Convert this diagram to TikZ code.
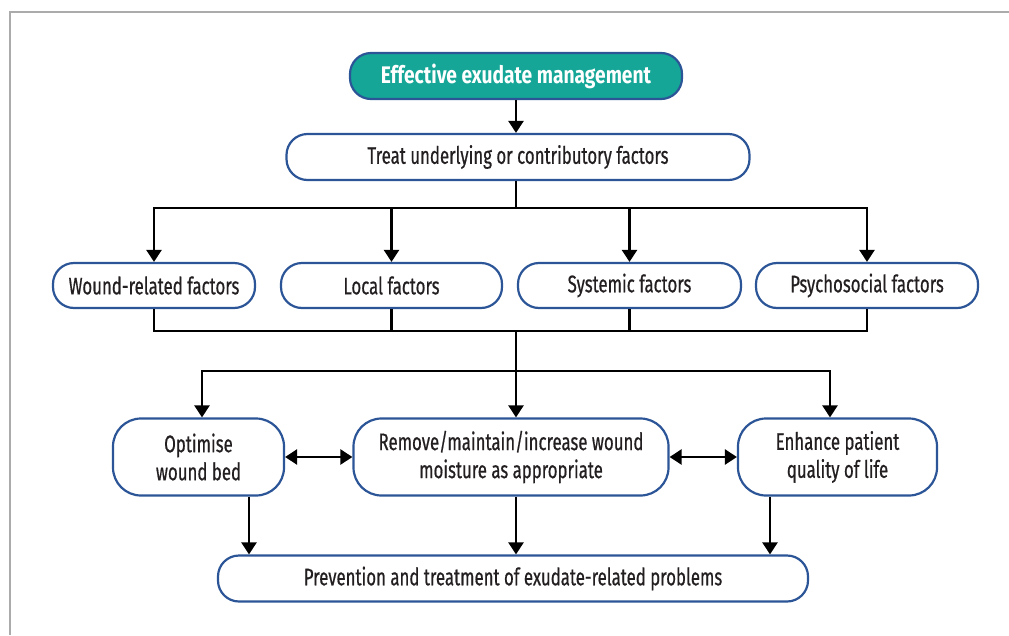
\documentclass[tikz,border=0pt]{standalone}
\usepackage{fontspec}
\setmainfont{Fira Sans}[FakeStretch=0.7, FakeBold=0.6]
\newfontfamily\topfont{Fira Sans}[FakeStretch=0.8, UprightFont=*, BoldFont=* Bold]
\usetikzlibrary{arrows.meta,calc}
\definecolor{boxblue}{HTML}{2B5597}
\definecolor{teal}{HTML}{15A697}
\definecolor{txt}{HTML}{231F20}
\definecolor{frame}{HTML}{ABABAB}
\tikzset{
  box/.style={draw=boxblue, line width=2.2pt, rectangle, rounded corners=21pt, inner sep=0pt, align=center, text=txt,
    font=\fontsize{24}{28}\selectfont},
  topbox/.style={box, fill=teal, text=white, font=\topfont\fontsize{24}{28}\selectfont\bfseries},
  conn/.style={line width=2.4pt, draw=black},
  arr/.style={conn, -{Triangle[length=12pt,width=15pt]}},
  darr/.style={conn, {Triangle[length=12pt,width=15pt]}-{Triangle[length=12pt,width=15pt]}},
}
\begin{document}
\begin{tikzpicture}[x=1pt,y=1pt]
\useasboundingbox (0,0) rectangle (1009,-635);
\draw[frame, line width=1.4pt] (1009,-12) -- (10,-12) -- (10,-635);

\node[topbox, minimum width=332pt, minimum height=46pt] (top) at (516,-76) {Effective exudate management};
\node[box, minimum width=463pt, minimum height=46pt] (treat) at (518,-157) {Treat underlying or contributory factors};

\node[box, minimum width=202pt, minimum height=45pt] (wound) at (154,-285.5) {Wound-related factors};
\node[box, minimum width=221pt, minimum height=45pt] (local) at (391.5,-285.5) {Local factors};
\node[box, minimum width=223pt, minimum height=45pt] (syst) at (629.5,-285.5) {Systemic factors};
\node[box, minimum width=222pt, minimum height=45pt] (psych) at (867,-285.5) {Psychosocial factors};

\node[box, rounded corners=28pt, minimum width=171pt, minimum height=77pt] (opt) at (198.5,-457) {Optimise\\wound bed};
\node[box, rounded corners=28pt, minimum width=315pt, minimum height=77pt] (rem) at (511,-457) {Remove/maintain/increase wound\\moisture as appropriate};
\node[box, rounded corners=28pt, minimum width=199pt, minimum height=77pt] (enh) at (837.5,-457) {Enhance patient\\quality of life};

\node[box, minimum width=590pt, minimum height=46pt] (prev) at (513,-578.5) {Prevention and treatment of exudate-related problems};

% top to treat
\draw[arr] (top.south) -- (top.south |- treat.north);

% treat to factors
\coordinate (j1) at (516,-208);
\draw[conn] (top.south |- treat.south) -- (j1);
\draw[arr] (j1) -| (wound.north);
\draw[arr] (j1) -| (local.north);
\draw[arr] (j1) -| (syst.north);
\draw[arr] (j1) -| (psych.north);

% factors to junction
\coordinate (j2) at (516,-331);
\coordinate (j3) at (516,-371);
\draw[conn] (wound.south) |- (j2);
\draw[conn] (psych.south) |- (j2);
\draw[conn] (local.south) -- (local.south |- j2);
\draw[conn] (syst.south) -- (syst.south |- j2);
\draw[conn] (j2) -- (j3);

% junction to row 3
\draw[arr] (j3) -| ([xshift=3.5pt]opt.north);
\draw[arr] (j3) -- (j3 |- rem.north);
\draw[arr] (j3) -| ([xshift=-7.5pt]enh.north);

% double arrows
\draw[darr] (opt.east) -- (rem.west);
\draw[darr] (rem.east) -- (enh.west);

% to prevention
\draw[arr] ([xshift=50.5pt]opt.south) -- ([xshift=50.5pt]opt.south |- prev.north);
\draw[arr] (j3 |- rem.south) -- (j3 |- prev.north);
\draw[arr] ([xshift=-67.5pt]enh.south) -- ([xshift=-67.5pt]enh.south |- prev.north);
\end{tikzpicture}
\end{document}
